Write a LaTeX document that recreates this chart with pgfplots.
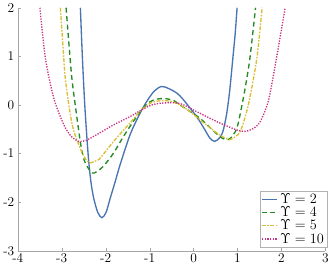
\documentclass[border=0pt]{standalone}
\usepackage{pgfplots}
\pgfplotsset{compat=1.18}
\definecolor{cblue}{RGB}{72,117,177}
\definecolor{cgreen}{RGB}{34,139,34}
\definecolor{cyellow}{RGB}{218,190,50}
\definecolor{cmag}{RGB}{200,50,130}
\begin{document}
\begin{tikzpicture}
\begin{axis}[
  scale only axis, width=309bp, height=244bp,
  xmin=-4, xmax=3, ymin=-3, ymax=2,
  axis lines=left, axis line style={-, gray!70},
  xtick={-4,-3,-2,-1,0,1,2,3}, xticklabels={-4,-3,-2,-1,0,1,2,3},
  ytick={-3,-2,-1,0,1,2}, yticklabels={-3,-2,-1,0,1,2},
  tick align=inside, major tick length=3bp, tick style={gray!70},
  ticklabel style={font=\fontsize{13.5}{15}\selectfont},
  xticklabel style={yshift=1pt},
  clip=true,
  legend style={at={(1.005,0.012)}, anchor=south east, draw=gray!60, font=\fontsize{14}{16}\selectfont, inner sep=1pt, row sep=-2pt},
  legend cell align=left,
  legend image code/.code={\draw[#1] (0cm,0cm) -- (0.55cm,0cm);},
]
\addplot[cblue, line width=1.35pt, smooth, tension=0.5] coordinates {
(-2.575,2.0) (-2.53,1.0) (-2.475,0.0) (-2.40,-1.0) (-2.34,-1.55) (-2.274,-1.91) (-2.18,-2.21) (-2.085,-2.32) (-1.99,-2.21) (-1.896,-1.92) (-1.78,-1.57) (-1.67,-1.227) (-1.443,-0.61) (-1.217,-0.17) (-1.066,0.07) (-0.9,0.28) (-0.727,0.38) (-0.55,0.33) (-0.312,0.19) (0.066,-0.237) (0.25,-0.50) (0.37,-0.68) (0.48,-0.75) (0.60,-0.67) (0.67,-0.54) (0.75,-0.2) (0.82,0.275) (0.894,0.96) (0.95,1.5) (0.99,2.0)
};
\addlegendentry{$\Upsilon = 2$}
\addplot[cgreen, line width=1.35pt, dash pattern=on 5pt off 3.5pt, smooth, tension=0.5] coordinates {
(-2.90,2.0) (-2.83,1.2) (-2.76,0.48) (-2.61,-0.545) (-2.54,-0.95) (-2.46,-1.2) (-2.31,-1.40) (-2.2,-1.37) (-2.05,-1.26) (-1.82,-0.99) (-1.595,-0.65) (-1.37,-0.34) (-1.18,-0.10) (-1.0,0.06) (-0.84,0.12) (-0.65,0.13) (-0.45,0.09) (-0.312,0.0) (0.14,-0.27) (0.59,-0.645) (0.78,-0.715) (0.9,-0.62) (1.007,-0.41) (1.16,0.275) (1.27,0.88) (1.35,1.5) (1.41,2.0)
};
\addlegendentry{$\Upsilon = 4$}
\addplot[cyellow, line width=1.35pt, dash pattern=on 4pt off 1.5pt on 1.5pt off 1.5pt, smooth, tension=0.5] coordinates {
(-3.03,2.0) (-2.97,1.2) (-2.91,0.48) (-2.76,-0.41) (-2.575,-0.90) (-2.45,-1.12) (-2.35,-1.19) (-2.2,-1.14) (-2.12,-1.09) (-1.82,-0.75) (-1.443,-0.37) (-1.18,-0.10) (-0.95,0.05) (-0.7,0.09) (-0.5,0.07) (-0.312,0.0) (-0.086,-0.135) (0.29,-0.41) (0.6,-0.62) (0.82,-0.715) (0.95,-0.65) (1.05,-0.57) (1.15,-0.32) (1.27,0.1) (1.44,0.96) (1.56,2.0)
};
\addlegendentry{$\Upsilon = 5$}
\addplot[cmag, line width=1.35pt, dash pattern=on 1.3pt off 1.4pt, smooth, tension=0.5] coordinates {
(-3.495,2.0) (-3.37,0.96) (-3.18,0.14) (-2.95,-0.41) (-2.78,-0.65) (-2.61,-0.75) (-2.45,-0.73) (-2.20,-0.61) (-1.82,-0.41) (-1.443,-0.24) (-1.18,-0.10) (-0.95,0.0) (-0.69,0.04) (-0.312,0.03) (0.14,-0.17) (0.593,-0.37) (0.97,-0.51) (1.16,-0.545) (1.30,-0.51) (1.40,-0.46) (1.50,-0.37) (1.61,-0.16) (1.72,0.15) (1.88,0.93) (2.085,2.0)
};
\addlegendentry{$\Upsilon = 10$}
\end{axis}
\end{tikzpicture}
\end{document}
